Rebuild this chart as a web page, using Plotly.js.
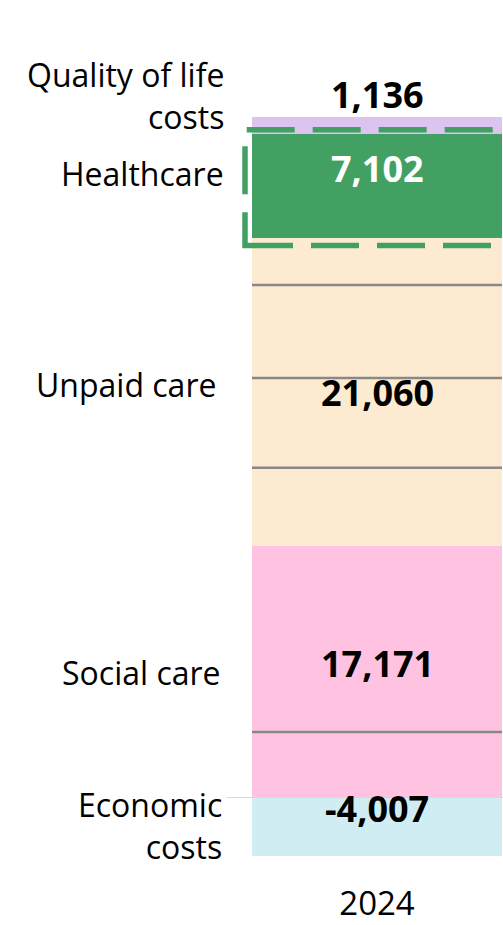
<!DOCTYPE html>
<html>
<head>
<meta charset="utf-8">
<script src="https://cdn.plot.ly/plotly-3.0.1.min.js"></script>
<style>
  html, body { margin: 0; padding: 0; overflow: hidden; background: #fff; }
  #chart { width: 503px; height: 925px; }
</style>
</head>
<body>
<div id="chart"></div>
<script>
// ---- data ----
const categories = ['2024'];
const components = ['Economic costs', 'Social care', 'Unpaid care', 'Healthcare', 'Quality of life costs'];
const componentLabels = ['Economic<br>costs', 'Social care', 'Unpaid care', 'Healthcare', 'Quality of life<br>costs'];
const totals = [-4007, 17171, 21060, 7102, 1136];
const valueLabels = ['-4,007', '17,171', '21,060', '7,102', '1,136'];
// sub-components inside a segment (shown as thin grey dividers)
const socialCareParts = [4488, 12683];
const unpaidCareParts = [5359, 6144, 6349, 3208];

// ---- styling ----
const colors = ['#CFEDF2', '#FFC3E1', '#FCEBD1', '#43A063', '#DBC4EE'];
const labelColors = ['#000', '#000', '#000', '#fff', '#000'];
const valueShift = [19, 9, 0, 17, 31];
const nameShiftY = [2, 0, 8, 12, 30];
const nameShiftX = [-3, -4, -9, -1, -1];
const FONT = '"Open Sans", "Noto Sans", Arial, sans-serif';

// stacked positions
const segBottom = [], segTop = [];
let posCum = 0;
totals.forEach((v, i) => {
  if (v < 0) { segBottom[i] = v; segTop[i] = 0; }
  else { segBottom[i] = posCum; segTop[i] = posCum + v; posCum += v; }
});

const traces = components.map((name, i) => ({
  type: 'bar',
  name: name,
  x: categories,
  y: [totals[i]],
  marker: { color: colors[i], line: { width: 0 } },
  hovertemplate: name + ': %{y:,}<extra></extra>'
}));

const annotations = [];
components.forEach((name, i) => {
  const mid = (segBottom[i] + segTop[i]) / 2;
  annotations.push({
    x: 0, xref: 'x', y: mid, yref: 'y',
    text: '<b>' + valueLabels[i] + '</b>',
    showarrow: false, yshift: valueShift[i],
    font: { family: FONT, size: 36, color: labelColors[i] }
  });
  annotations.push({
    x: 0, xref: 'paper', y: mid, yref: 'y',
    text: componentLabels[i], align: 'right',
    xanchor: 'right', showarrow: false,
    xshift: nameShiftX[i], yshift: nameShiftY[i],
    font: { family: FONT, size: 32, color: '#000' }
  });
});

// divider lines between sub-components
const shapes = [];
function addDividers(parts, base) {
  let c = base;
  for (let k = 0; k < parts.length - 1; k++) {
    c += parts[k];
    shapes.push({
      type: 'line', xref: 'x', yref: 'y', x0: -0.5, x1: 0.5, y0: c, y1: c,
      line: { color: '#888888', width: 2.5 }
    });
  }
}
addDividers(socialCareParts, segBottom[1]);
addDividers(unpaidCareParts, segBottom[2]);

// dashed highlight around Healthcare
shapes.push({
  type: 'rect', xref: 'x', yref: 'y',
  x0: -0.5 - 0.028, x1: 0.5 + 0.028,
  y0: segBottom[3] - 520, y1: segTop[3] + 280,
  line: { color: '#43A063', width: 5.5, dash: '48px,18px' },
  fillcolor: 'rgba(0,0,0,0)'
});

const layout = {
  width: 503, height: 925,
  margin: { l: 227, r: 0, t: 100, b: 44 },
  paper_bgcolor: '#fff', plot_bgcolor: '#fff',
  barmode: 'relative', bargap: 0,
  showlegend: false,
  font: { family: FONT, color: '#000' },
  xaxis: {
    type: 'category', range: [-0.6, 0.504],
    showgrid: false, zeroline: false, showline: false, ticks: '',
    tickfont: { family: FONT, size: 33, color: '#000' }
  },
  yaxis: {
    range: [-5689, 47653],
    showgrid: false, showticklabels: false, ticks: '', showline: false,
    zeroline: true, zerolinecolor: '#D9D9D9', zerolinewidth: 1.5
  },
  annotations: annotations,
  shapes: shapes
};

Plotly.newPlot('chart', traces, layout, { displayModeBar: false, staticPlot: true });
</script>
</body>
</html>
